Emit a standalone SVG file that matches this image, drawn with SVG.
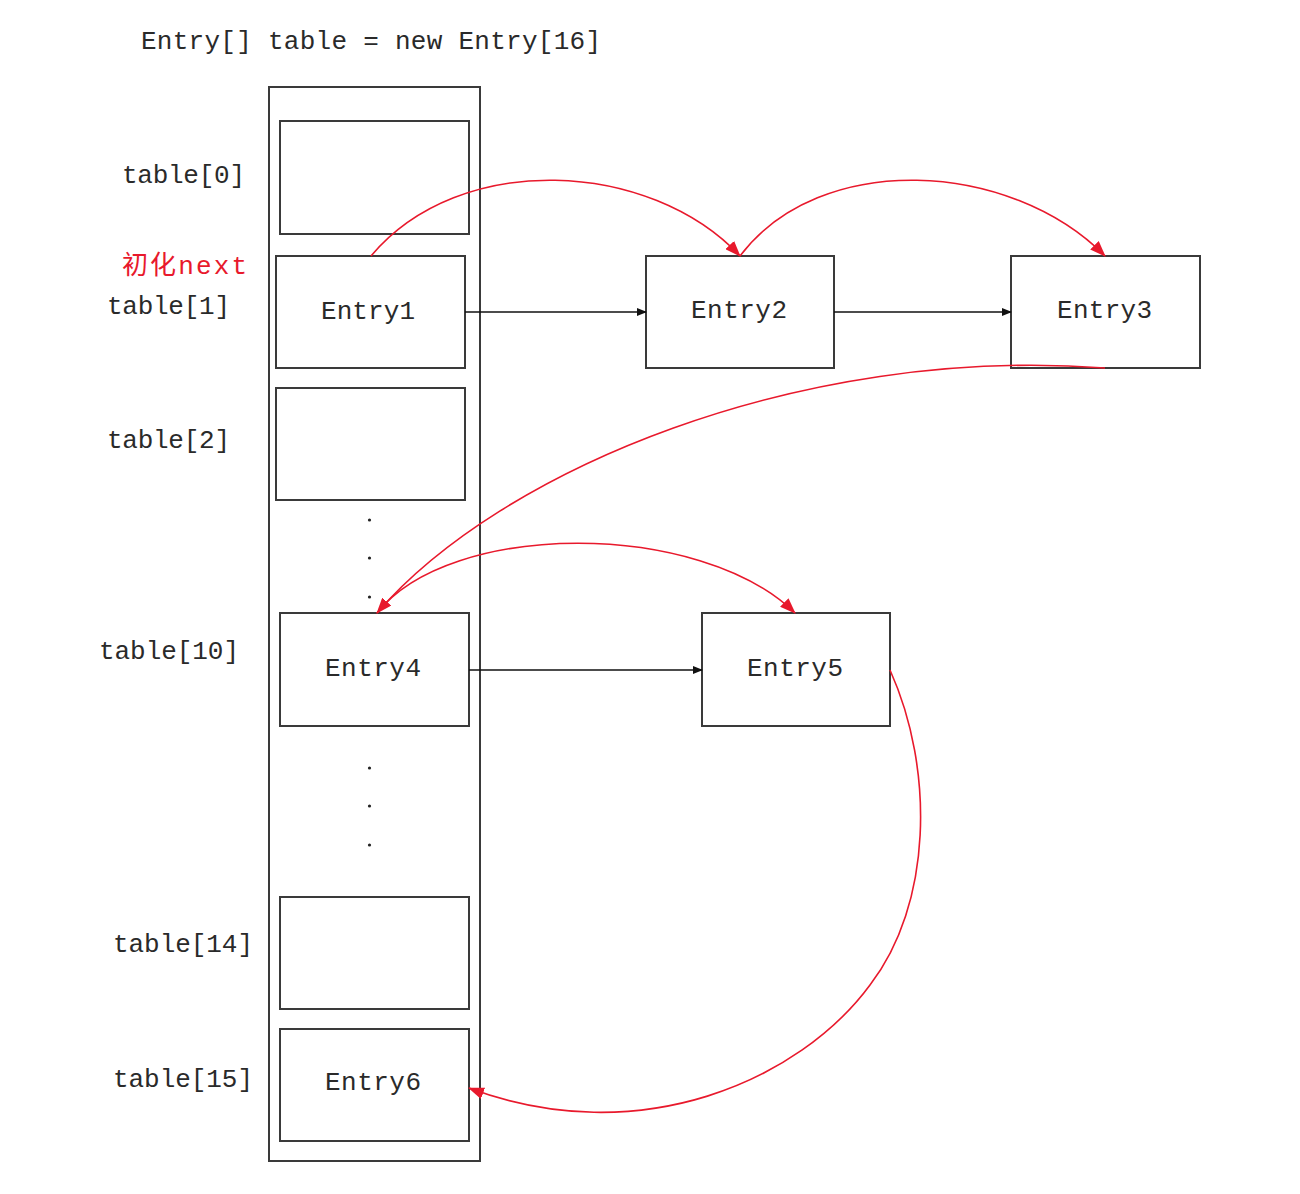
<svg xmlns="http://www.w3.org/2000/svg" width="1300" height="1194" viewBox="0 0 1300 1194">
<style>
.box{fill:none;stroke:#3a3a3a;stroke-width:2}
.t{font-family:"Liberation Mono","Noto Sans CJK SC",monospace;font-size:26px;fill:#2a2a2a;dominant-baseline:central}
.red{fill:#e8192c}
.blk{stroke:#111;stroke-width:1.6;fill:none}
.rc{stroke:#e8192c;stroke-width:1.6;fill:none}
.dot{fill:#222}
</style>
<defs>
<marker id="ab" markerWidth="10" markerHeight="8" refX="9" refY="4" orient="auto" markerUnits="userSpaceOnUse">
<path d="M0,0 L10,4 L0,8 Z" fill="#111"/>
</marker>
<marker id="ar" markerWidth="16" markerHeight="12" refX="15" refY="6" orient="auto" markerUnits="userSpaceOnUse">
<path d="M0,0 L16,6 L0,12 Z" fill="#e8192c"/>
</marker>
</defs>
<rect width="1300" height="1194" fill="#fff"/>
<text class="t" x="141" y="42" textLength="460">Entry[] table = new Entry[16]</text>
<g id="container"><rect class="box" x="269" y="87" width="211" height="1074"/></g>
<g id="table0"><rect class="box" x="280" y="121" width="189" height="113"/><text class="t" x="122" y="176" textLength="123">table[0]</text></g>
<g id="entry1"><rect class="box" x="276" y="256" width="189" height="112"/><text class="t" x="321" y="312" textLength="94">Entry1</text><text class="t" x="107" y="307" textLength="123">table[1]</text><text class="t red" x="122" y="267" textLength="125">初化next</text></g>
<g id="table2"><rect class="box" x="276" y="388" width="189" height="112"/><text class="t" x="107" y="441" textLength="123">table[2]</text></g>
<g id="entry4"><rect class="box" x="280" y="613" width="189" height="113"/><text class="t" x="325" y="669" textLength="96">Entry4</text><text class="t" x="99" y="652" textLength="140">table[10]</text></g>
<g id="table14"><rect class="box" x="280" y="897" width="189" height="112"/><text class="t" x="113" y="945" textLength="140">table[14]</text></g>
<g id="entry6"><rect class="box" x="280" y="1029" width="189" height="112"/><text class="t" x="325" y="1083" textLength="96">Entry6</text><text class="t" x="113" y="1080" textLength="140">table[15]</text></g>
<g id="entry2"><rect class="box" x="646" y="256" width="188" height="112"/><text class="t" x="691" y="311" textLength="96">Entry2</text></g>
<g id="entry3"><rect class="box" x="1011" y="256" width="189" height="112"/><text class="t" x="1057" y="311" textLength="95">Entry3</text></g>
<g id="entry5"><rect class="box" x="702" y="613" width="188" height="113"/><text class="t" x="747" y="669" textLength="96">Entry5</text></g>
<g id="dots">
<circle class="dot" cx="369.5" cy="520" r="1.6"/><circle class="dot" cx="369.5" cy="558" r="1.6"/><circle class="dot" cx="369.5" cy="597" r="1.6"/>
<circle class="dot" cx="369.5" cy="768" r="1.6"/><circle class="dot" cx="369.5" cy="806" r="1.6"/><circle class="dot" cx="369.5" cy="845" r="1.6"/>
</g>
<g id="connectors">
<line class="blk" x1="465" y1="312" x2="646" y2="312" marker-end="url(#ab)"/>
<line class="blk" x1="834" y1="312" x2="1011" y2="312" marker-end="url(#ab)"/>
<line class="blk" x1="469" y1="670" x2="702" y2="670" marker-end="url(#ab)"/>
<path class="rc" d="M371,256 C460,150 650,160 740,256" marker-end="url(#ar)"/>
<path class="rc" d="M740,256 C820,150 1010,160 1105,256" marker-end="url(#ar)"/>
<path class="rc" d="M1105,368 C800,345 500,470 377,613" marker-end="url(#ar)"/>
<path class="rc" d="M377,613 C450,520 700,520 795,613" marker-end="url(#ar)"/>
<path class="rc" d="M890,670 C935,770 932,905 870,985 C800,1080 640,1152 469,1088" marker-end="url(#ar)"/>
</g>
</svg>
